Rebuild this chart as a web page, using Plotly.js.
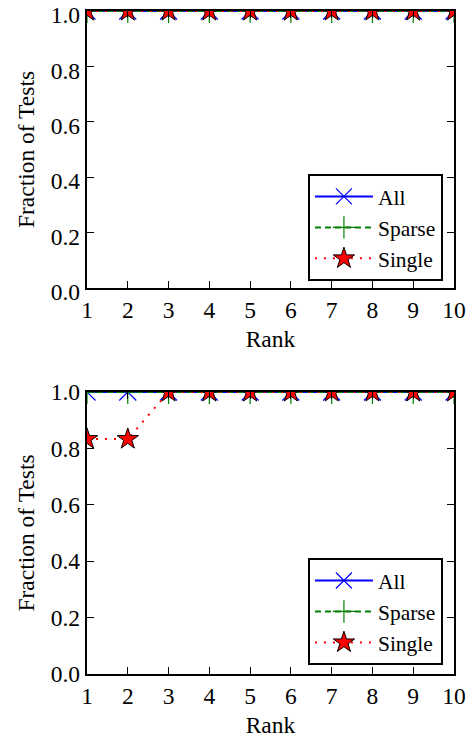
<!DOCTYPE html>
<html>
<head>
<meta charset="utf-8">
<script src="https://cdn.plot.ly/plotly-3.0.1.min.js"></script>
<style>html,body{margin:0;padding:0;background:#fff;}#chart{width:474px;height:740px;}</style>
</head>
<body>
<div id="chart"></div>
<script>
var ranks = [1, 2, 3, 4, 5, 6, 7, 8, 9, 10];
var topAll = [1, 1, 1, 1, 1, 1, 1, 1, 1, 1];
var topSparse = [1, 1, 1, 1, 1, 1, 1, 1, 1, 1];
var topSingle = [1, 1, 1, 1, 1, 1, 1, 1, 1, 1];
var botAll = [1, 1, 1, 1, 1, 1, 1, 1, 1, 1];
var botSparse = [1, 1, 1, 1, 1, 1, 1, 1, 1, 1];
var botSingle = [0.833, 0.833, 1, 1, 1, 1, 1, 1, 1, 1];
var yTicks = [0, 0.2, 0.4, 0.6, 0.8, 1.0];
var yTickText = ["0.0", "0.2", "0.4", "0.6", "0.8", "1.0"];
var seriesNames = ["All", "Sparse", "Single"];

var FONT = "Liberation Serif";
var FS = 23.5;
var LFS = 21.5;

function mk(name, x, y, xa, ya, leg, kind) {
  var t = {type: "scatter", mode: "lines+markers", name: name, x: x, y: y,
    xaxis: xa, yaxis: ya, legend: leg, legendgroup: leg + name, cliponaxis: true};
  if (kind === 0) {
    t.line = {color: "#0000ff", width: 2, dash: "solid"};
    t.marker = {symbol: "x-thin-open", size: 17, color: "#0000ff", line: {color: "#0000ff", width: 1.2}};
  } else if (kind === 1) {
    t.line = {color: "#008000", width: 2, dash: "6px,4px"};
    t.marker = {symbol: "cross-thin-open", size: 17, color: "#008000", line: {color: "#008000", width: 1.2}};
  } else {
    t.line = {color: "#ff0000", width: 2, dash: "2px,7px"};
    t.marker = {symbol: "star", size: 16, color: "#ff0000", line: {color: "#000000", width: 1}};
  }
  return t;
}

var data = [
  mk(seriesNames[0], ranks, topAll, "x", "y", "legend", 0),
  mk(seriesNames[1], ranks, topSparse, "x", "y", "legend", 1),
  mk(seriesNames[2], ranks, topSingle, "x", "y", "legend", 2),
  mk(seriesNames[0], ranks, botAll, "x2", "y2", "legend2", 0),
  mk(seriesNames[1], ranks, botSparse, "x2", "y2", "legend2", 1),
  mk(seriesNames[2], ranks, botSingle, "x2", "y2", "legend2", 2)
];

function xax(anchor) {
  return {domain: [0, 1], anchor: anchor, range: [1, 10], tickvals: ranks, ticktext: ranks.map(String),
    ticks: "inside", ticklen: 7, tickwidth: 1.2, tickcolor: "#000", mirror: "ticks",
    showline: true, linewidth: 2.2, linecolor: "#000", showgrid: false, zeroline: false,
    ticklabeloverflow: "allow",
    tickfont: {family: FONT, size: FS, color: "#000"},
    title: {text: "Rank", font: {family: FONT, size: FS, color: "#000"}, standoff: 8}};
}
function yax(anchor, dom, shift) {
  return {domain: dom, anchor: anchor, range: [0, 1], tickvals: yTicks, ticktext: yTickText,
    ticks: "inside", ticklen: 7, tickwidth: 1.2, tickcolor: "#000", mirror: "ticks",
    showline: true, linewidth: 2.2, linecolor: "#000", showgrid: false, zeroline: false,
    ticklabeloverflow: "allow", ticklabelshift: shift,
    tickfont: {family: FONT, size: FS, color: "#000"},
    title: {text: "Fraction of Tests", font: {family: FONT, size: FS, color: "#000"}, standoff: 10}};
}

function leg(y) {
  return {x: 0.602, xanchor: "left", y: y, yanchor: "top", bgcolor: "#fff",
    bordercolor: "#000", borderwidth: 2, font: {family: FONT, size: LFS, color: "#000"},
    tracegroupgap: 0, itemwidth: 58};
}

var layout = {
  width: 474, height: 740, paper_bgcolor: "#fff", plot_bgcolor: "#fff",
  margin: {l: 87, r: 20, t: 0, b: 0},
  showlegend: true,
  font: {family: FONT, color: "#000"},
  xaxis: xax("y"), yaxis: yax("x", [0.6108, 0.9851], 4),
  xaxis2: xax("y2"), yaxis2: yax("x2", [0.0892, 0.4703], 0),
  legend: leg(0.7649), legend2: leg(0.2459)
};

Plotly.newPlot("chart", data, layout, {displayModeBar: false, staticPlot: true});
</script>
</body>
</html>
